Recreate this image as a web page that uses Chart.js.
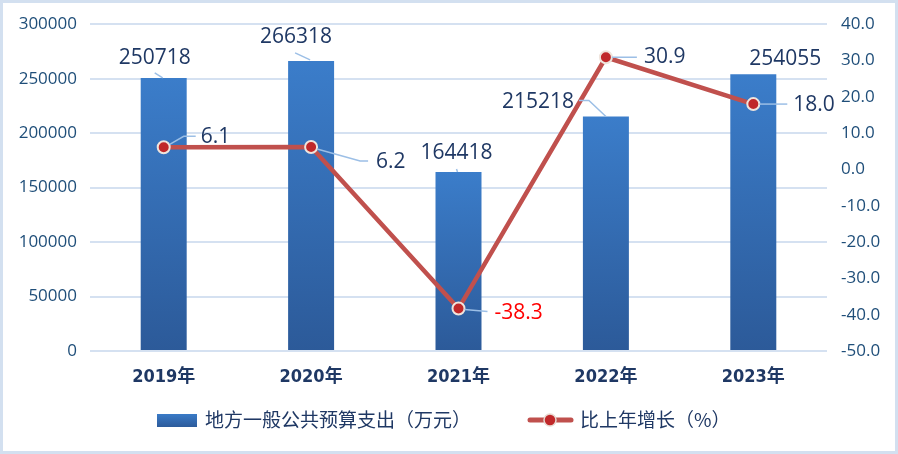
<!DOCTYPE html>
<html><head><meta charset="utf-8">
<script src="https://cdn.jsdelivr.net/npm/chart.js@4"></script>
<style>html,body{margin:0;padding:0;background:#fff;}#wrap{width:898px;height:454px;}</style>
</head><body><div id="wrap"><canvas id="c" width="898" height="454"></canvas></div>
<script>
const categories = ['2019年','2020年','2021年','2022年','2023年'];
const spending = [250718, 266318, 164418, 215218, 254055];
const growth = [6.1, 6.2, -38.3, 30.9, 18.0];
const spendingLabel = '地方一般公共预算支出（万元）';
const growthLabel = '比上年增长（%）';
const leftTicks = [0, 50000, 100000, 150000, 200000, 250000, 300000];
const rightTicks = [-50, -40, -30, -20, -10, 0, 10, 20, 30, 40];

// label layout (pixel offsets relative to mark)
const barLabelLayout = [
  {dx:-9, dy:-20, leader:[[-9,-5],[-1,0]]},
  {dx:-15, dy:-24, leader:[[-16,-8],[-1,-1]]},
  {dx:-2, dy:-19, leader:[[-2,-3],[-1,0]]},
  {dx:-68, dy:-15, leader:[[-27,-16],[-17,-16],[0,0]]},
  {dx:32, dy:-15, leader:null}
];
const lineLabelLayout = [
  {dx:37, dy:-10, leader:[[6,-3],[20,-11],[32,-11]]},
  {dx:65, dy:15, leader:[[6,2],[49,14],[57,14]]},
  {dx:36, dy:4, leader:[[6,1],[29,3]]},
  {dx:38, dy:0, leader:[[6,0],[31,0]]},
  {dx:40, dy:1, leader:[[6,0],[34,0]]}
];

const NAVY = '#1f3864';
const TICK = '#1f4e79';
const GRID = '#d5e1f1';
const LEADER = '#9cbfe6';

const frame = {
  id:'frame',
  beforeDraw(chart){
    const c = chart.ctx;
    c.save();
    c.fillStyle = '#fff';
    c.fillRect(0,0,chart.width,chart.height);
    c.strokeStyle = '#d3e0f0';
    c.lineWidth = 3;
    c.strokeRect(1.5,1.5,chart.width-3,chart.height-3);
    c.restore();
  }
};

const labels = {
  id:'labels',
  afterDatasetsDraw(chart){
    const c = chart.ctx;
    c.save();
    c.font = '21px "Open Sans"';
    c.textBaseline = 'middle';
    const barMeta = chart.getDatasetMeta(0);
    barMeta.data.forEach((el,i)=>{
      const L = barLabelLayout[i];
      if (L.leader){
        c.strokeStyle = LEADER; c.lineWidth = 1.5;
        c.beginPath();
        L.leader.forEach((p,k)=>{ const x=el.x+p[0], y=el.y+p[1]; k?c.lineTo(x,y):c.moveTo(x,y); });
        c.stroke();
      }
      c.fillStyle = NAVY; c.textAlign = 'center';
      c.fillText(String(spending[i]), el.x+L.dx, el.y+L.dy);
    });
    const lineMeta = chart.getDatasetMeta(1);
    lineMeta.data.forEach((el,i)=>{
      const L = lineLabelLayout[i];
      c.strokeStyle = LEADER; c.lineWidth = 1.5;
      c.beginPath();
      L.leader.forEach((p,k)=>{ const x=el.x+p[0], y=el.y+p[1]; k?c.lineTo(x,y):c.moveTo(x,y); });
      c.stroke();
      c.fillStyle = growth[i] < 0 ? '#ff0000' : NAVY;
      c.textAlign = 'left';
      c.fillText(growth[i].toFixed(1), el.x+L.dx, el.y+L.dy);
    });
    c.restore();
  },
  afterDraw(chart){
    const c = chart.ctx;
    c.save();
    // legend
    const y = 420;
    const g = c.createLinearGradient(0,y-7,0,y+7);
    g.addColorStop(0,'#3b7dca'); g.addColorStop(1,'#2d5b9b');
    c.fillStyle = g;
    c.fillRect(157,414,40,13);
    c.font = '19px "Noto Sans CJK SC"';
    c.fillStyle = NAVY; c.textBaseline='middle'; c.textAlign='left';
    c.fillText(chart.data.datasets[0].label, 205, y);
    c.strokeStyle = '#c0504d'; c.lineWidth = 5; c.lineCap='round';
    c.beginPath(); c.moveTo(530,y); c.lineTo(571,y); c.stroke();
    c.beginPath(); c.arc(550,y,6,0,Math.PI*2);
    c.fillStyle='#c0282a'; c.fill();
    c.lineWidth=1.5; c.strokeStyle='#e8d8d0'; c.stroke();
    c.fillStyle = NAVY;
    c.fillText(chart.data.datasets[1].label, 580, y);
    c.restore();
  }
};

function barGradient(ctx){
  const chart = ctx.chart;
  if (!chart.chartArea || ctx.raw === undefined) return '#3672bb';
  const ys = chart.scales.y;
  const top = ys.getPixelForValue(ctx.raw);
  const bot = ys.getPixelForValue(0);
  const g = chart.ctx.createLinearGradient(0, top, 0, bot);
  g.addColorStop(0, '#3b7dca');
  g.addColorStop(1, '#2c5a99');
  return g;
}

new Chart(document.getElementById('c'), {
  data: {
    labels: categories,
    datasets: [
      {type:'bar', label: spendingLabel, data: spending, yAxisID:'y', order:1,
       backgroundColor: barGradient, borderWidth:0,
       categoryPercentage:1, barPercentage:0.312},
      {type:'line', label: growthLabel, data: growth, yAxisID:'y1', order:0,
       borderColor:'#c0504d', borderWidth:4.5, tension:0,
       pointRadius:6, pointBackgroundColor:'#c0282a', pointBorderColor:'#efe4dc', pointBorderWidth:2}
    ]
  },
  options: {
    responsive:false, animation:false, devicePixelRatio:1,
    layout:{padding:{left:0,right:0,top:23,bottom:0}},
    plugins:{legend:{display:false}, tooltip:{enabled:false}},
    scales:{
      x:{
        grid:{display:false, drawTicks:false},
        border:{display:false},
        ticks:{padding:16, color:NAVY, font:{family:'"Liberation Sans Narrow","DejaVu Sans Condensed","Noto Sans CJK SC"', size:18, weight:'bold'}},
        afterFit(s){ s.height = 103; }
      },
      y:{
        position:'left', min:0, max:300000,
        afterBuildTicks(s){ s.ticks = leftTicks.map(v=>({value:v})); },
        grid:{color:GRID, lineWidth:2, drawTicks:false},
        border:{display:false},
        ticks:{padding:13, color:TICK, font:{family:'"Open Sans"', size:17}, callback:v=>String(v)},
        afterFit(s){ s.width = 90; }
      },
      y1:{
        position:'right', min:-50, max:40,
        afterBuildTicks(s){ s.ticks = rightTicks.map(v=>({value:v})); },
        grid:{display:false, drawTicks:false},
        border:{display:false},
        ticks:{padding:14, color:TICK, font:{family:'"Open Sans"', size:17}, callback:v=>Number(v).toFixed(1)},
        afterFit(s){ s.width = 71; }
      }
    }
  },
  plugins:[frame, labels]
});
</script>
</body></html>
